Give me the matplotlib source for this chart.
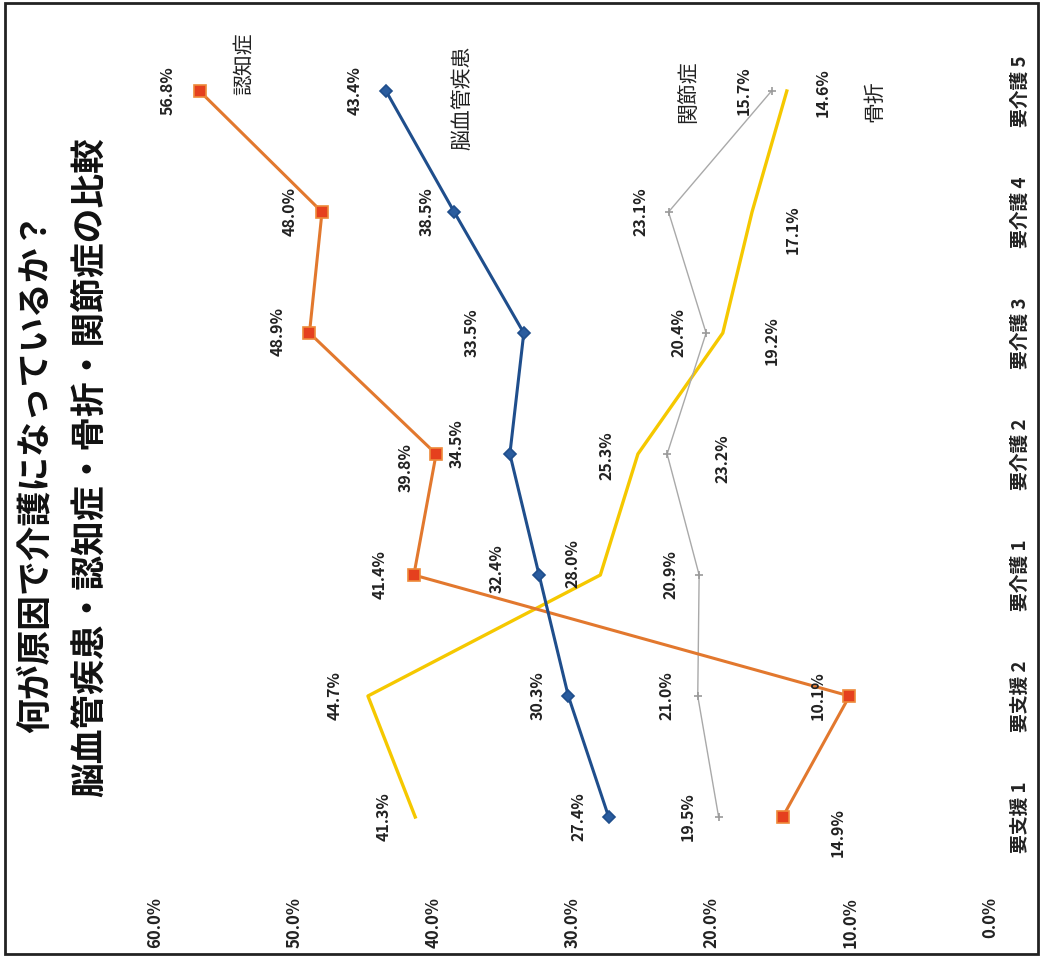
import matplotlib
matplotlib.use("Agg")
import matplotlib.pyplot as plt
from matplotlib.patches import Rectangle

plt.rcParams['font.family'] = ['Noto Sans CJK JP', 'DejaVu Sans']

# --- data ---
categories = ["要支援 1", "要支援 2", "要介護 1", "要介護 2", "要介護 3", "要介護 4", "要介護 5"]
stroke = [27.4, 30.3, 32.4, 34.5, 33.5, 38.5, 43.4]      # 脳血管疾患
dementia = [14.9, 10.1, 41.4, 39.8, 48.9, 48.0, 56.8]    # 認知症
fracture = [41.3, 44.7, 28.0, 25.3, 19.2, 17.1, 14.6]    # 骨折
arthrosis = [19.5, 21.0, 20.9, 23.2, 20.4, 23.1, 15.7]   # 関節症
value_ticks = [0, 10, 20, 30, 40, 50, 60]

# --- layout (pixels) ---
W, H = 1041, 959
fig = plt.figure(figsize=(W / 100, H / 100), dpi=100)
fig.patch.set_facecolor('white')

ax_left, ax_right = 155, 990
ax_top, ax_bottom = 30.5, 877.5
ax = fig.add_axes([ax_left / W, 1 - ax_bottom / H, (ax_right - ax_left) / W, (ax_bottom - ax_top) / H])
ax.set_xlim(60, 0)
ax.set_ylim(-0.5, 6.5)
for s in ax.spines.values():
    s.set_visible(False)
ax.patch.set_alpha(0)

pos = list(range(len(categories)))

# label offsets in pixels (dx to the right, dy downward in the picture)
series = [
    dict(name="脳血管疾患", vals=stroke, color="#1F4E8C", lw=2.2, marker="D", ms=6.5, mfc="#2A5C9E", mec="#1F4E8C",
         dx=[-30, -31, -42, -53, -52, -28, -31], dy=[0, 0, -6, -10, 0, 0, 0], name_off=(76, 7)),
    dict(name="認知症", vals=dementia, color="#E2782E", lw=2.2, marker="s", ms=9, mfc="#E5401E", mec="#EE8A3A",
         dx=[55, -32, -34, -30, -32, -32, -32], dy=[16, 0, 0, 14, -2, 0, 0], name_off=(45, -27)),
    dict(name="骨折", vals=fracture, color="#F5C800", lw=2.4, marker=None, ms=0, mfc="none", mec="none",
         dx=[-32, -33, -28, -31, 49, 41, 36], dy=[0, 0, -11, 2, 8, 18, 2], name_off=(88, 10)),
    dict(name="関節症", vals=arthrosis, color="#A9A9A9", lw=1.0, marker="+", ms=6, mfc="#9A9A9A", mec="#9A9A9A",
         dx=[-31, -31, -29, 55, -28, -28, -28], dy=[0, 0, 0, 5, 0, 0, 0], name_off=(-83, 1)),
]

# draw order: yellow & gray under, then orange, blue on top
for s in [series[2], series[3], series[1], series[0]]:
    ax.plot(s["vals"], pos, color=s["color"], lw=s["lw"], marker=s["marker"], ms=s["ms"],
            mfc=s["mfc"], mec=s["mec"], mew=1.2, zorder=3)

for s in series:
    for v, p, dx, dy in zip(s["vals"], pos, s["dx"], s["dy"]):
        ax.annotate(f"{v:.1f}%", (v, p), xytext=(dx, -dy), textcoords="offset pixels",
                    rotation=90, ha="center", va="center", fontsize=11.5, fontweight="bold",
                    color="#222222", zorder=5)
    ax.annotate(s["name"], (s["vals"][-1], pos[-1]), xytext=(s["name_off"][0], -s["name_off"][1]),
                textcoords="offset pixels", rotation=90, ha="center", va="center",
                fontsize=15, color="#222222", zorder=5)

# value axis (bottom of picture)
ax.set_xticks(value_ticks)
ax.set_xticklabels([f"{t:.1f}%" for t in value_ticks], rotation=90, fontsize=12,
                   fontweight="bold", color="#222222")
ax.tick_params(axis="x", length=0, pad=14)

# category axis (right side of picture)
ax.yaxis.tick_right()
ax.set_yticks(pos)
ax.set_yticklabels(categories, rotation=90, va="center", fontsize=13.5, fontweight="bold",
                   color="#222222")
ax.tick_params(axis="y", length=0, pad=15)

# title, rotated like the rest of the scan
fig.text(35 / W, 1 - 472 / H, "何が原因で介護になっているか？", rotation=90, ha="center", va="center",
         fontsize=25, fontweight="bold", color="#111111")
fig.text(89 / W, 1 - 467 / H, "脳血管疾患・認知症・骨折・関節症の比較", rotation=90, ha="center", va="center",
         fontsize=25, fontweight="bold", color="#111111")

# outer frame
fig.patches.append(Rectangle((5 / W, 1 - 954 / H), 1033 / W, 951 / H, transform=fig.transFigure,
                             fill=False, edgecolor="#222222", lw=2))

fig.savefig("out.png", dpi=100)
